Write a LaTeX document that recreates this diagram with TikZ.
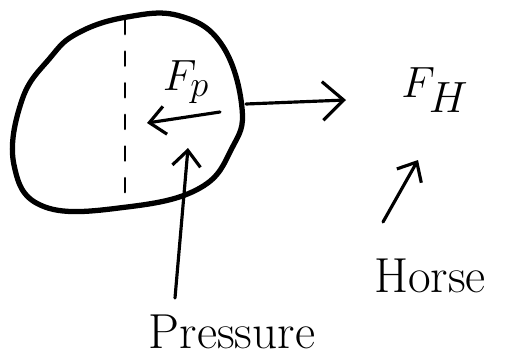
\documentclass[tikz,border=0pt]{standalone}
\usepackage{tikz}
\usetikzlibrary{arrows.meta}
\usetikzlibrary{positioning}

\tikzset{
  pen/.style={line width=1.8pt, line cap=round, line join=round},
  barb/.style={pen, -{Straight Barb[length=9pt, width=16pt, line width=1.8pt]}},
  word/.style={inner sep=0pt, font=\fontsize{28}{30}\selectfont}
}

\begin{document}
\begin{tikzpicture}[x=0.02cm, y=-0.02cm]
  \useasboundingbox (0,0) rectangle (507,358);

  % Corpo
  \draw[pen, line width=3pt] plot[smooth cycle, tension=0.7] coordinates
    {(78,33) (127,17) (180,16) (222,45) (242,108) (232,148) (200,188)
     (127,207) (45,207) (14,165) (22,100) (50,58)};
  \draw[pen, line width=1.5pt, dash pattern=on 8pt off 10pt] (125,20) -- (125,207);

  % Etichette
  \node[word] (fp) at (186,82) {$F_p$};
  \node[word, font=\fontsize{36}{38}\selectfont] (fh) at (435,90) {$F_H$};
  \node[word] (horse) at (430,276) {Horse};
  \node[word] (pressure) at (232,332) {Pressure};

  \coordinate (rim) at (246,104);
  \coordinate (hhead) at (346,100);
  \coordinate (fpstart) at (220,112);
  \coordinate (fpend) at (147,123);
  \coordinate (pstart) at (175,298);
  \coordinate (ptip) at (188,148);
  \coordinate (hstart) at (383,222);
  \coordinate (htip) at (418,160);

  % Frecce
  \draw[barb] (fpstart) -- (fpend);
  \draw[pen, -{Straight Barb[length=12pt, width=22pt, line width=1.8pt]}] (rim) -- (hhead);
  \draw[barb] (pstart) -- (ptip);
  \draw[barb] (hstart) -- (htip);
\end{tikzpicture}
\end{document}
